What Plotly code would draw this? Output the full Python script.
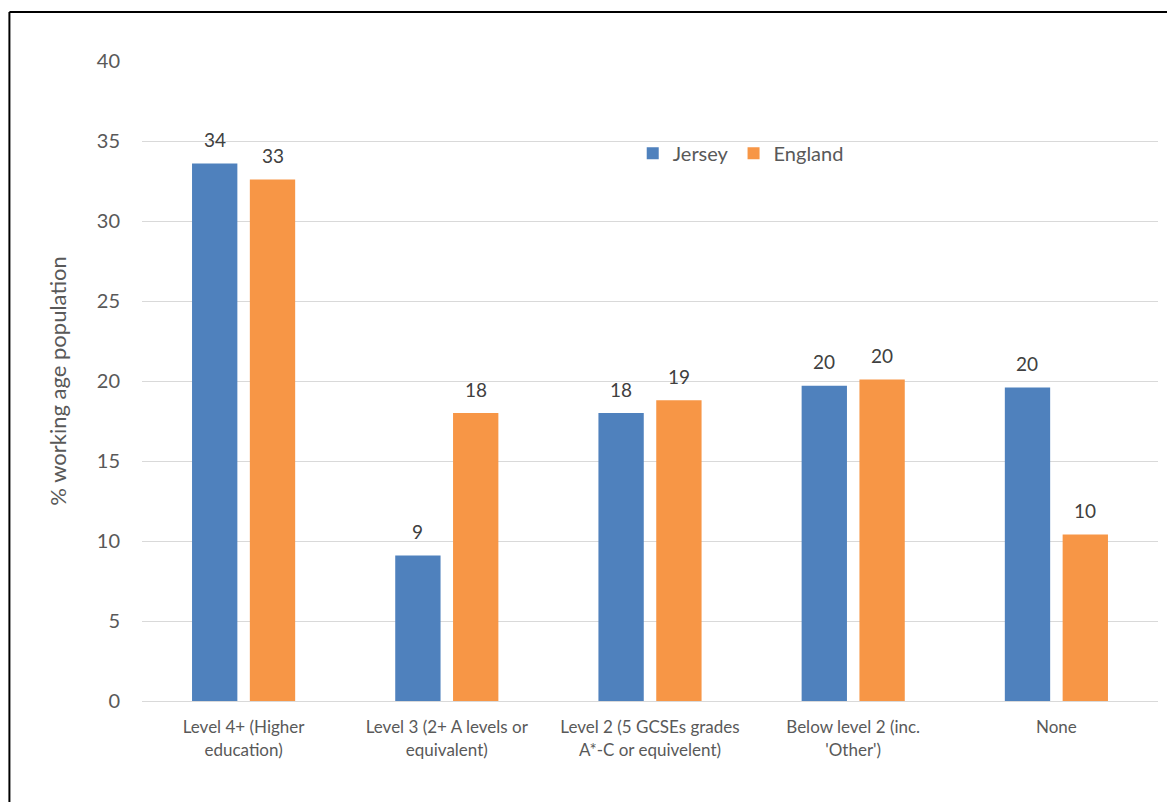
import plotly.graph_objects as go

# Highest qualification of the working-age population
categories = [
    "Level 4+ (Higher<br>education)",
    "Level 3 (2+ A levels or<br>equivalent)",
    "Level 2 (5 GCSEs grades<br>A*-C or equivelent)",
    "Below level 2 (inc.<br>'Other')",
    "None",
]
jersey = [33.6, 9.1, 18.0, 19.7, 19.6]
england = [32.6, 18.0, 18.8, 20.1, 10.4]
y_ticks = [0, 5, 10, 15, 20, 25, 30, 35, 40]

JERSEY_COLOR = "#4F81BD"
ENGLAND_COLOR = "#F79646"
TEXT_COLOR = "#595959"
FONT = "Lato, 'Open Sans', sans-serif"

fig = go.Figure()
fig.add_trace(go.Bar(name="Jersey", x=categories, y=jersey,
                     marker=dict(color=JERSEY_COLOR, line=dict(width=0))))
fig.add_trace(go.Bar(name="England", x=categories, y=england,
                     marker=dict(color=ENGLAND_COLOR, line=dict(width=0))))

# value labels above each bar
annotations = []
for series, shift in ((jersey, -29), (england, 29)):
    for cat, val in zip(categories, series):
        annotations.append(dict(
            x=cat, y=val, xref="x", yref="y", text=f"{val:.0f}",
            showarrow=False, xshift=shift, yshift=24, yanchor="middle",
            font=dict(family=FONT, size=19, color="#404040"),
        ))

fig.update_layout(
    width=1167, height=802,
    margin=dict(l=142, r=9, t=61, b=101),
    paper_bgcolor="white", plot_bgcolor="white",
    font=dict(family=FONT, color=TEXT_COLOR),
    barmode="group", bargap=0.431, bargroupgap=0.216,
    showlegend=True,
    legend=dict(orientation="h", x=0.483, y=0.856, xanchor="left", yanchor="middle",
                font=dict(size=20, color=TEXT_COLOR), itemwidth=30,
                bgcolor="rgba(0,0,0,0)", traceorder="normal"),
    annotations=annotations,
    shapes=[
        dict(type="line", xref="paper", yref="paper", x0=-0.1305, x1=1.2,
             y0=1.0766, y1=1.0766, line=dict(color="black", width=2)),
        dict(type="line", xref="paper", yref="paper", x0=-0.1305, x1=-0.1305,
             y0=-0.3, y1=1.0766, line=dict(color="black", width=2)),
    ],
)

fig.update_yaxes(
    range=[0, 40], tickvals=y_ticks, showgrid=True, gridcolor="#D9D9D9", gridwidth=1,
    zeroline=False, showline=False, ticks="", ticklabelstandoff=21,
    tickfont=dict(size=20, color=TEXT_COLOR),
    title=dict(text="% working age population", standoff=24,
               font=dict(size=22, color=TEXT_COLOR)),
)
fig.update_xaxes(
    showline=True, linecolor="#D9D9D9", linewidth=1, ticks="",
    ticklabelstandoff=11, tickfont=dict(size=17, color=TEXT_COLOR),
)

fig.write_html("out.html")
